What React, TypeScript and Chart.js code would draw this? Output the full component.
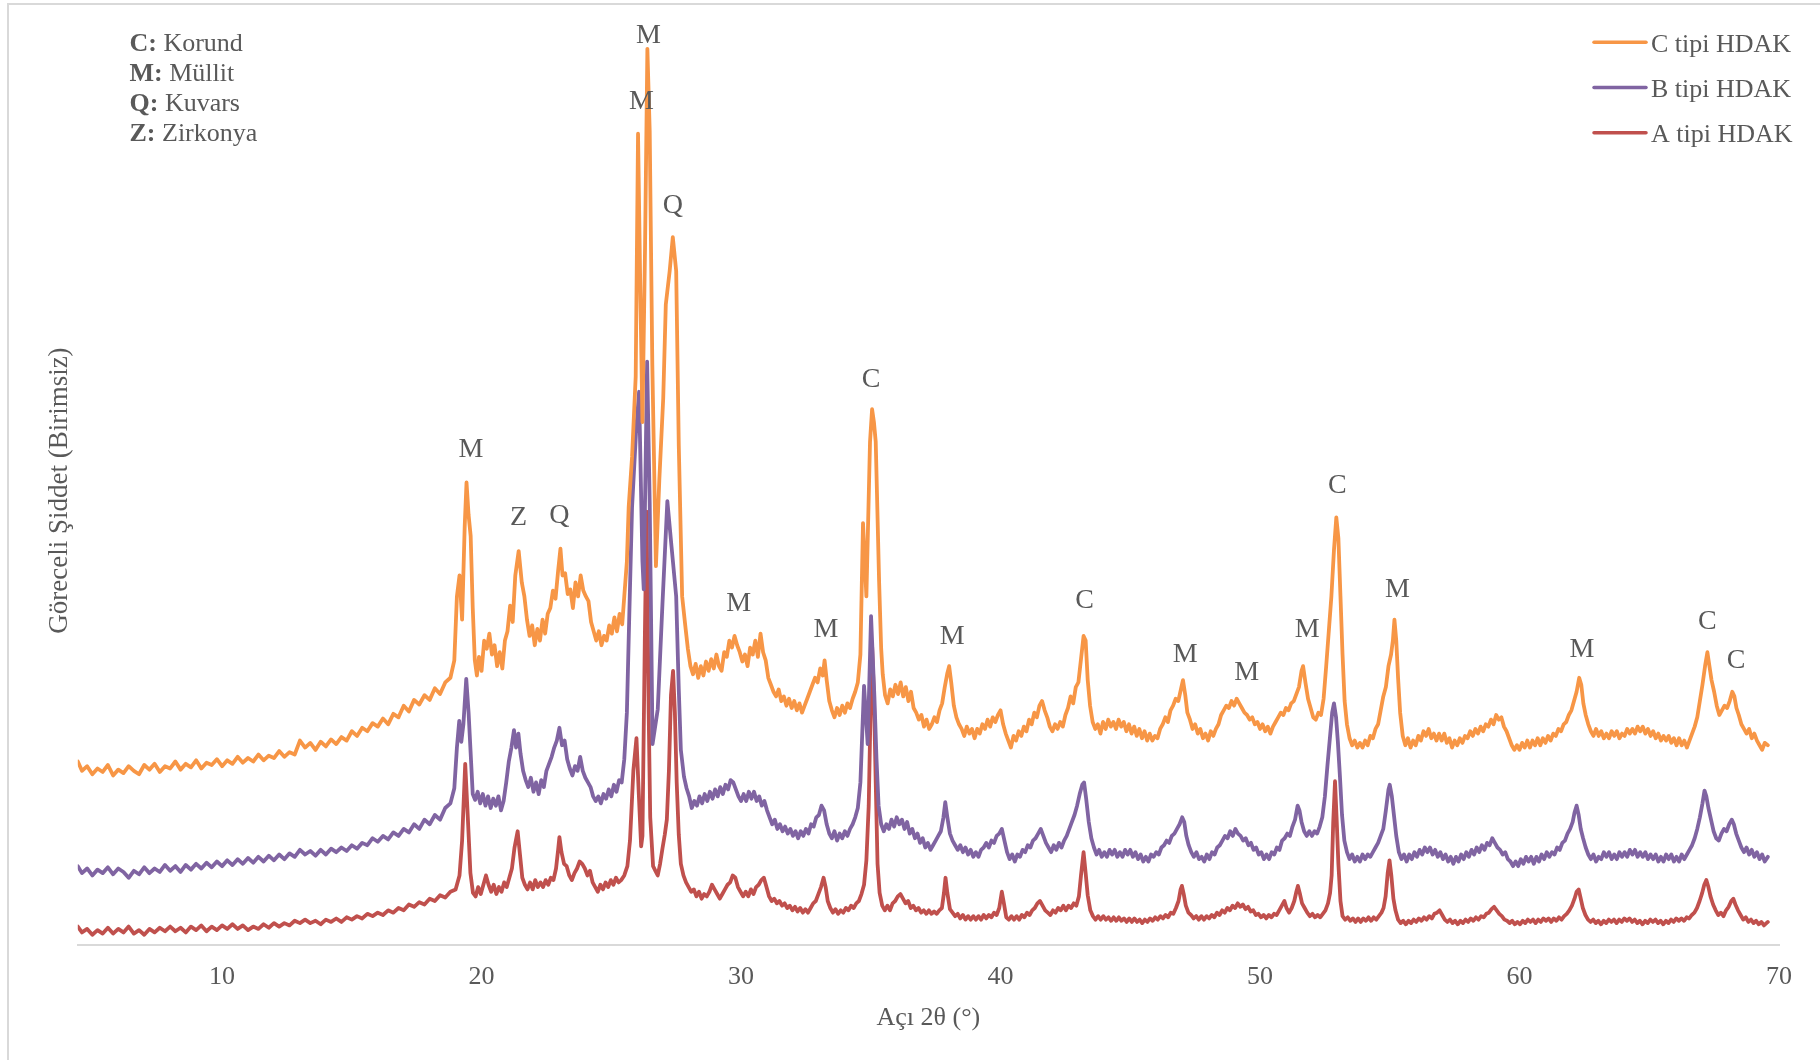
import { useEffect, useRef } from "react";
import { Chart, registerables } from "chart.js";

Chart.register(...registerables);

// ---------- data (2θ in degrees, relative intensity) ----------
const X_MIN = 4.44;
const X_MAX = 70;
const Y_MAX = 782;
const X_TICKS = [10, 20, 30, 40, 50, 60, 70];

const SERIES_NAMES = ["C tipi HDAK", "B tipi HDAK", "A tipi HDAK"];
const SERIES_COLORS = ["#F79646", "#8064A2", "#C0504D"];

const C_TIPI: [number, number][] = [
  [4.44,158],[4.6,150],[4.8,154],[5.0,147],[5.2,152],[5.4,149],[5.6,155],[5.8,146],[6.0,151],[6.2,148],[6.4,154],[6.6,150],[6.8,147],[7.0,155],[7.2,151],[7.4,156],[7.6,149],[7.8,154],[8.0,152],[8.2,158],[8.4,151],[8.6,156],[8.8,153],[9.0,159],[9.2,152],[9.4,157],[9.6,155],[9.8,160],[10.0,154],[10.2,159],[10.4,156],[10.6,162],[10.8,157],[11.0,161],[11.2,158],[11.4,164],[11.6,159],[11.8,163],[12.0,161],[12.2,167],[12.4,162],[12.6,166],[12.8,164],[13.0,176],[13.2,170],[13.4,174],[13.6,168],[13.8,175],[14.0,171],[14.2,177],[14.4,173],[14.6,179],[14.8,176],[15.0,184],[15.2,180],[15.4,187],[15.6,184],[15.8,191],[16.0,188],[16.2,195],[16.4,190],[16.6,199],[16.8,196],[17.0,206],[17.2,201],[17.4,211],[17.6,207],[17.8,215],[18.0,211],[18.2,221],[18.4,216],[18.6,226],[18.8,230],
  [18.95,245],[19.05,300],[19.15,318],[19.25,280],[19.35,360],[19.42,398],[19.5,370],[19.58,352],[19.66,290],[19.74,245],[19.82,232],[19.9,248],[20.0,236],[20.1,262],[20.2,255],[20.3,268],[20.4,250],[20.5,258],[20.6,240],[20.7,252],[20.8,238],[20.9,262],[21.0,270],[21.1,292],[21.2,278],[21.3,318],[21.43,339],[21.55,312],[21.65,300],[21.75,280],[21.85,266],[21.95,275],[22.05,258],[22.15,272],[22.25,262],[22.35,280],[22.45,268],[22.55,285],[22.65,290],[22.75,305],[22.85,298],[22.95,322],[23.04,341],[23.12,318],[23.22,320],[23.32,302],[23.42,306],[23.52,290],[23.62,312],[23.72,300],[23.82,318],[23.92,305],[24.02,300],[24.12,296],[24.22,278],[24.32,270],[24.42,262],[24.52,270],[24.62,258],[24.72,266],[24.82,262],[24.92,275],[25.02,268],[25.12,282],[25.22,270],[25.32,285],[25.42,276],[25.5,300],[25.6,330],[25.67,377],[25.8,420],[25.94,489],[26.03,698],[26.12,560],[26.2,450],[26.3,600],[26.39,771],[26.48,700],[26.58,500],[26.72,326],[26.85,400],[27.0,470],[27.1,551],[27.25,580],[27.37,609],[27.5,580],[27.6,430],[27.73,300],[27.85,275],[27.95,255],
  [28.05,240],[28.15,233],[28.25,242],[28.35,230],[28.45,240],[28.55,232],[28.65,244],[28.75,236],[28.85,246],[28.95,238],[29.05,250],[29.15,240],[29.25,236],[29.35,252],[29.45,248],[29.55,262],[29.65,256],[29.75,266],[29.85,258],[29.95,252],[30.05,244],[30.15,250],[30.25,240],[30.35,256],[30.45,250],[30.55,262],[30.65,248],[30.75,268],[30.85,252],[30.95,245],[31.05,230],[31.15,224],[31.25,218],[31.35,214],[31.45,220],[31.55,210],[31.65,214],[31.75,206],[31.85,212],[31.95,204],[32.05,210],[32.15,202],[32.25,208],[32.35,200],[32.45,206],[32.55,212],[32.65,218],[32.75,224],[32.85,230],[32.95,226],[33.05,238],[33.15,232],[33.22,245],[33.3,228],[33.4,210],[33.5,202],[33.6,196],[33.7,204],[33.8,198],[33.9,206],[34.0,200],[34.1,208],[34.2,204],[34.3,212],[34.4,218],[34.5,226],[34.6,250],[34.7,363],[34.83,300],[34.97,433],[35.05,461],[35.12,450],[35.19,433],[35.32,313],[35.4,255],[35.46,233],[35.55,215],[35.65,208],[35.75,220],[35.85,214],[35.95,224],[36.05,216],[36.15,226],[36.25,214],[36.35,222],[36.45,210],[36.55,218],[36.65,204],[36.75,200],[36.85,194],[36.95,198],[37.05,188],[37.15,194],[37.25,186],[37.35,190],[37.45,196],[37.55,192],[37.65,202],[37.75,208],[37.85,222],[37.95,234],[38.02,240],[38.1,226],[38.2,206],[38.3,196],[38.4,190],[38.5,186],[38.6,180],[38.7,188],[38.8,182],[38.9,186],[39.0,178],[39.1,186],[39.2,182],[39.3,190],[39.4,186],[39.5,194],[39.6,188],[39.7,196],[39.8,192],[39.9,198],[40.0,202],[40.1,190],[40.2,182],[40.3,176],[40.4,170],[40.5,180],[40.6,176],[40.7,184],[40.8,180],[40.9,188],[41.0,184],[41.1,194],[41.2,190],[41.3,200],[41.4,196],[41.5,206],[41.6,210],[41.7,202],[41.8,196],[41.9,188],[42.0,184],[42.1,190],[42.2,186],[42.3,192],[42.4,188],[42.5,198],[42.6,204],[42.7,214],[42.8,208],[42.9,222],[43.0,226],[43.1,246],[43.2,266],[43.28,262],[43.36,228],[43.45,206],[43.55,192],[43.65,186],[43.75,190],[43.85,182],[43.95,192],
  [44.05,186],[44.15,194],[44.25,188],[44.35,192],[44.45,186],[44.55,194],[44.65,188],[44.75,192],[44.85,184],[44.95,190],[45.05,182],[45.15,188],[45.25,180],[45.35,186],[45.45,178],[45.55,184],[45.65,176],[45.75,182],[45.85,176],[45.95,180],[46.05,178],[46.15,186],[46.25,190],[46.35,196],[46.45,192],[46.55,202],[46.65,206],[46.75,212],[46.85,210],[46.95,220],[47.03,228],[47.12,215],[47.2,200],[47.3,194],[47.4,186],[47.5,190],[47.6,182],[47.7,186],[47.8,178],[47.9,182],[48.0,176],[48.1,184],[48.2,180],[48.3,186],[48.4,190],[48.5,198],[48.6,202],[48.7,206],[48.8,204],[48.9,210],[49.0,206],[49.1,212],[49.2,208],[49.3,204],[49.4,200],[49.5,198],[49.6,194],[49.7,196],[49.8,190],[49.9,192],[50.0,186],[50.1,190],[50.2,184],[50.3,188],[50.4,182],[50.5,188],[50.6,192],[50.7,196],[50.8,200],[50.9,198],[51.0,204],[51.1,202],[51.2,208],[51.3,210],[51.4,216],[51.5,222],[51.6,236],[51.66,240],[51.75,226],[51.85,212],[51.95,204],[52.05,196],[52.15,194],[52.25,200],[52.35,198],[52.45,212],[52.55,240],[52.65,270],[52.75,300],[52.85,340],[52.94,368],[53.02,350],[53.1,300],[53.18,250],[53.26,210],[53.35,190],[53.45,178],[53.55,172],[53.65,176],[53.75,170],[53.85,174],[53.95,170],[54.05,176],[54.15,172],[54.25,180],[54.35,178],[54.45,186],[54.55,190],[54.65,202],[54.75,214],[54.85,222],[54.95,240],[55.05,250],[55.12,262],[55.18,280],[55.25,262],[55.32,230],[55.4,200],[55.5,180],[55.6,172],[55.7,178],[55.8,170],[55.9,176],
  [56.0,172],[56.1,180],[56.2,176],[56.3,184],[56.4,180],[56.5,186],[56.6,178],[56.7,182],[56.8,176],[56.9,182],[57.0,176],[57.1,182],[57.2,174],[57.3,178],[57.4,170],[57.5,176],[57.6,172],[57.7,178],[57.8,174],[57.9,180],[58.0,178],[58.1,184],[58.2,180],[58.3,186],[58.4,182],[58.5,188],[58.6,184],[58.7,190],[58.8,188],[58.9,194],[59.0,190],[59.1,198],[59.2,194],[59.3,196],[59.4,188],[59.5,184],[59.6,178],[59.7,172],[59.8,168],[59.9,172],[60.0,168],[60.1,174],[60.2,170],[60.3,176],[60.4,170],[60.5,176],[60.6,172],[60.7,178],[60.8,172],[60.9,178],[61.0,174],[61.1,180],[61.2,176],[61.3,182],[61.4,180],[61.5,186],[61.6,184],[61.7,190],[61.8,192],[61.9,198],[62.0,202],[62.1,210],[62.2,218],[62.3,230],[62.38,224],[62.46,208],[62.55,198],[62.65,190],[62.75,184],[62.85,180],[62.95,186],[63.05,180],[63.15,184],[63.25,178],[63.35,182],[63.45,178],[63.55,184],[63.65,180],[63.75,184],[63.85,178],[63.95,182],[64.05,180],[64.15,186],[64.25,182],[64.35,186],[64.45,182],[64.55,188],[64.65,184],[64.75,188],[64.85,182],[64.95,186],[65.05,180],[65.15,184],[65.25,178],[65.35,182],[65.45,176],[65.55,180],[65.65,176],[65.75,180],[65.85,174],[65.95,178],[66.05,172],[66.15,178],[66.25,172],[66.35,176],[66.45,170],[66.55,176],[66.65,182],[66.75,188],[66.85,196],[66.95,210],[67.05,224],[67.15,240],[67.24,252],[67.32,240],[67.4,228],[67.5,218],[67.6,206],[67.7,198],[67.8,202],[67.9,206],[68.0,204],[68.1,210],[68.2,218],[68.28,214],[68.36,204],[68.45,198],[68.55,190],[68.65,186],[68.75,182],[68.85,186],[68.95,178],[69.05,182],[69.15,176],[69.25,172],[69.35,168],[69.45,174],[69.57,172],
];

const B_TIPI: [number, number][] = [
  [4.44,68],[4.6,62],[4.8,66],[5.0,60],[5.2,65],[5.4,62],[5.6,67],[5.8,61],[6.0,66],[6.2,63],[6.4,58],[6.6,64],[6.8,61],[7.0,67],[7.2,62],[7.4,66],[7.6,63],[7.8,69],[8.0,64],[8.2,68],[8.4,63],[8.6,69],[8.8,65],[9.0,70],[9.2,66],[9.4,71],[9.6,67],[9.8,72],[10.0,68],[10.2,73],[10.4,69],[10.6,74],[10.8,70],[11.0,75],[11.2,71],[11.4,76],[11.6,72],[11.8,77],[12.0,73],[12.2,78],[12.4,74],[12.6,79],[12.8,76],[13.0,82],[13.2,78],[13.4,81],[13.6,77],[13.8,82],[14.0,78],[14.2,83],[14.4,80],[14.6,84],[14.8,81],[15.0,86],[15.2,83],[15.4,88],[15.6,86],[15.8,92],[16.0,89],[16.2,94],[16.4,91],[16.6,97],[16.8,94],[17.0,100],[17.2,97],[17.4,104],[17.6,100],[17.8,108],[18.0,104],[18.2,112],[18.4,108],[18.6,118],[18.8,122],
  [18.95,135],[19.05,170],[19.14,193],[19.22,175],[19.3,190],[19.41,229],[19.5,200],[19.58,165],[19.66,130],[19.75,125],[19.85,132],[19.95,122],[20.05,130],[20.15,120],[20.25,128],[20.35,118],[20.45,126],[20.55,120],[20.65,128],[20.75,116],[20.85,124],[20.95,140],[21.05,158],[21.15,170],[21.25,185],[21.33,170],[21.42,182],[21.5,165],[21.6,150],[21.7,142],[21.8,136],[21.9,144],[22.0,132],[22.1,140],[22.2,130],[22.3,142],[22.4,136],[22.5,150],[22.6,156],[22.7,162],[22.8,170],[22.9,176],[23.0,187],[23.1,172],[23.2,176],[23.3,160],[23.4,152],[23.5,146],[23.6,154],[23.7,150],[23.8,162],[23.9,150],[24.0,144],[24.1,140],[24.2,136],[24.3,128],[24.4,124],[24.5,128],[24.6,122],[24.7,130],[24.8,126],[24.9,134],[25.0,128],[25.1,138],[25.2,132],[25.3,142],[25.4,140],[25.5,160],[25.6,200],[25.7,290],[25.8,377],[25.95,440],[26.07,476],[26.2,330],[26.25,306],[26.38,502],[26.48,380],[26.59,173],[26.79,203],[26.97,293],[27.16,382],[27.32,343],[27.5,300],[27.6,220],[27.68,168],[27.8,145],[27.9,135],
  [28.0,128],[28.1,118],[28.2,124],[28.3,120],[28.4,128],[28.5,122],[28.6,130],[28.7,124],[28.8,132],[28.9,126],[29.0,134],[29.1,128],[29.2,136],[29.3,130],[29.4,138],[29.5,134],[29.6,142],[29.7,140],[29.8,134],[29.9,128],[30.0,124],[30.1,130],[30.2,124],[30.3,132],[30.4,126],[30.5,132],[30.6,124],[30.7,128],[30.8,120],[30.9,124],[31.0,116],[31.1,110],[31.2,104],[31.3,108],[31.4,100],[31.5,104],[31.6,98],[31.7,102],[31.8,96],[31.9,100],[32.0,94],[32.1,98],[32.2,92],[32.3,98],[32.4,94],[32.5,100],[32.6,96],[32.7,104],[32.8,102],[32.9,110],[33.0,112],[33.1,120],[33.2,116],[33.3,104],[33.4,96],[33.5,92],[33.6,98],[33.7,90],[33.8,96],[33.9,92],[34.0,98],[34.1,94],[34.2,100],[34.3,104],[34.4,110],[34.5,118],[34.6,140],[34.74,223],[34.88,173],[35.01,283],[35.14,213],[35.22,160],[35.3,120],[35.4,104],[35.5,98],[35.6,104],[35.7,100],[35.8,108],[35.9,102],[36.0,110],[36.1,104],[36.2,108],[36.3,100],[36.4,106],[36.5,96],[36.6,100],[36.7,92],[36.8,96],[36.9,88],[37.0,92],[37.1,84],[37.2,88],[37.3,82],[37.4,86],[37.5,90],[37.6,94],[37.7,98],[37.8,110],[37.87,123],[37.95,110],[38.05,96],[38.15,90],[38.25,86],[38.35,82],[38.45,86],[38.55,80],[38.65,84],[38.75,78],[38.85,82],[38.95,76],[39.05,80],[39.15,76],[39.25,82],[39.35,84],[39.45,88],[39.55,84],[39.65,90],[39.75,88],[39.85,94],[39.95,96],[40.05,100],[40.15,90],[40.25,80],[40.35,74],[40.45,78],[40.55,72],[40.65,78],[40.75,76],[40.85,82],[40.95,80],[41.05,86],[41.15,84],[41.25,90],[41.35,92],[41.45,96],[41.55,100],[41.65,94],[41.75,88],[41.85,84],[41.95,80],[42.05,86],[42.15,82],[42.25,88],[42.35,84],[42.45,90],[42.55,94],[42.65,100],[42.75,106],[42.85,112],[42.95,120],[43.05,130],[43.15,138],[43.22,140],[43.3,126],[43.4,106],[43.5,92],[43.6,84],[43.7,78],[43.8,82],[43.9,76],
  [44.0,80],[44.1,76],[44.2,82],[44.3,78],[44.4,82],[44.5,76],[44.6,80],[44.7,76],[44.8,82],[44.9,78],[45.0,82],[45.1,76],[45.2,80],[45.3,74],[45.4,78],[45.5,72],[45.6,76],[45.7,72],[45.8,78],[45.9,76],[46.0,80],[46.1,78],[46.2,84],[46.3,86],[46.4,90],[46.5,88],[46.6,94],[46.7,96],[46.8,100],[46.9,104],[47.0,110],[47.08,106],[47.16,94],[47.25,86],[47.35,80],[47.45,76],[47.55,80],[47.65,74],[47.75,76],[47.85,72],[47.95,78],[48.05,74],[48.15,80],[48.25,78],[48.35,84],[48.45,86],[48.55,90],[48.65,94],[48.75,92],[48.85,98],[48.95,94],[49.05,100],[49.15,96],[49.25,94],[49.35,90],[49.45,92],[49.55,86],[49.65,88],[49.75,82],[49.85,84],[49.95,78],[50.05,80],[50.15,74],[50.25,78],[50.35,74],[50.45,80],[50.55,78],[50.65,84],[50.75,82],[50.85,90],[50.95,92],[51.05,96],[51.15,94],[51.25,102],[51.35,108],[51.45,120],[51.52,116],[51.6,106],[51.7,98],[51.8,94],[51.9,98],[52.0,94],[52.1,98],[52.2,96],[52.3,102],[52.4,110],[52.5,128],[52.6,155],[52.7,180],[52.78,200],[52.85,208],[52.93,196],[53.0,175],[53.08,145],[53.16,112],[53.25,90],[53.35,80],[53.45,74],[53.55,78],[53.65,72],[53.75,76],[53.85,72],[53.95,78],[54.05,74],[54.15,78],[54.25,76],[54.35,80],[54.45,84],[54.55,88],[54.65,94],[54.75,100],[54.85,116],[54.95,134],[55.0,138],[55.08,128],[55.16,112],[55.25,94],[55.35,80],[55.45,74],[55.55,78],[55.65,72],[55.75,78],[55.85,74],[55.95,80],
  [56.05,76],[56.15,82],[56.25,78],[56.35,84],[56.45,80],[56.55,84],[56.65,78],[56.75,82],[56.85,76],[56.95,80],[57.05,74],[57.15,78],[57.25,72],[57.35,76],[57.45,70],[57.55,76],[57.65,72],[57.75,78],[57.85,74],[57.95,80],[58.05,76],[58.15,82],[58.25,78],[58.35,84],[58.45,80],[58.55,86],[58.65,82],[58.75,88],[58.85,86],[58.95,92],[59.05,88],[59.15,84],[59.25,82],[59.35,78],[59.45,80],[59.55,74],[59.65,72],[59.75,68],[59.85,72],[59.95,68],[60.05,74],[60.15,70],[60.25,76],[60.35,72],[60.45,76],[60.55,70],[60.65,76],[60.75,72],[60.85,78],[60.95,74],[61.05,80],[61.15,76],[61.25,80],[61.35,78],[61.45,84],[61.55,82],[61.65,88],[61.75,90],[61.85,96],[61.95,100],[62.05,106],[62.12,114],[62.2,120],[62.28,112],[62.36,100],[62.45,92],[62.55,84],[62.65,78],[62.75,74],[62.85,78],[62.95,72],[63.05,76],[63.15,74],[63.25,80],[63.35,76],[63.45,80],[63.55,74],[63.65,78],[63.75,74],[63.85,80],[63.95,76],[64.05,80],[64.15,76],[64.25,82],[64.35,78],[64.45,82],[64.55,76],[64.65,80],[64.75,76],[64.85,80],[64.95,74],[65.05,78],[65.15,74],[65.25,78],[65.35,72],[65.45,76],[65.55,72],[65.65,78],[65.75,74],[65.85,78],[65.95,72],[66.05,76],[66.15,72],[66.25,78],[66.35,74],[66.45,78],[66.55,82],[66.65,86],[66.75,92],[66.85,100],[66.95,110],[67.05,122],[67.13,133],[67.2,128],[67.28,118],[67.38,108],[67.48,98],[67.58,92],[67.68,90],[67.78,96],[67.88,100],[67.98,98],[68.08,104],[68.18,108],[68.26,104],[68.35,96],[68.45,90],[68.55,84],[68.65,80],[68.75,84],[68.85,78],[68.95,82],[69.05,76],[69.15,80],[69.25,74],[69.35,78],[69.45,72],[69.57,76],
];

const A_TIPI: [number, number][] = [
  [4.44,16],[4.6,11],[4.8,14],[5.0,9],[5.2,13],[5.4,10],[5.6,15],[5.8,10],[6.0,14],[6.2,11],[6.4,16],[6.6,10],[6.8,13],[7.0,9],[7.2,14],[7.4,11],[7.6,15],[7.8,12],[8.0,16],[8.2,12],[8.4,15],[8.6,11],[8.8,16],[9.0,13],[9.2,17],[9.4,12],[9.6,16],[9.8,13],[10.0,17],[10.2,14],[10.4,18],[10.6,14],[10.8,17],[11.0,13],[11.2,16],[11.4,14],[11.6,18],[11.8,15],[12.0,19],[12.2,16],[12.4,19],[12.6,17],[12.8,21],[13.0,19],[13.2,22],[13.4,19],[13.6,21],[13.8,18],[14.0,22],[14.2,20],[14.4,23],[14.6,20],[14.8,24],[15.0,22],[15.2,25],[15.4,23],[15.6,27],[15.8,25],[16.0,28],[16.2,26],[16.4,30],[16.6,28],[16.8,32],[17.0,30],[17.2,35],[17.4,33],[17.6,37],[17.8,35],[18.0,40],[18.2,38],[18.4,43],[18.6,41],[18.8,46],[19.0,48],
  [19.15,60],[19.25,90],[19.37,156],[19.47,110],[19.57,62],[19.67,45],[19.77,42],[19.87,50],[19.97,44],[20.07,52],[20.17,60],[20.27,52],[20.37,46],[20.47,52],[20.57,44],[20.67,50],[20.77,46],[20.87,54],[20.97,50],[21.07,58],[21.17,66],[21.27,84],[21.39,98],[21.48,78],[21.57,58],[21.67,52],[21.77,48],[21.87,54],[21.97,48],[22.07,56],[22.17,50],[22.27,54],[22.37,50],[22.47,56],[22.57,52],[22.67,58],[22.77,56],[22.87,66],[22.95,82],[23.0,93],[23.08,80],[23.18,70],[23.28,68],[23.38,60],[23.48,56],[23.58,62],[23.68,66],[23.78,72],[23.88,70],[23.98,66],[24.08,60],[24.18,64],[24.28,54],[24.38,50],[24.48,46],[24.58,52],[24.68,48],[24.78,54],[24.88,50],[24.98,56],[25.08,52],[25.18,58],[25.28,54],[25.38,56],[25.5,60],[25.62,68],[25.72,90],[25.85,150],[25.97,178],[26.06,130],[26.15,85],[26.2,94],[26.29,260],[26.36,373],[26.44,200],[26.5,110],[26.61,68],[26.7,64],[26.79,60],[26.88,70],[26.97,83],[27.06,95],[27.14,108],[27.22,150],[27.3,215],[27.38,236],[27.45,200],[27.52,140],[27.6,95],[27.68,70],[27.78,60],[27.88,54],[27.98,50],
  [28.08,46],[28.18,48],[28.28,42],[28.38,46],[28.48,40],[28.58,44],[28.68,42],[28.78,46],[28.88,52],[28.98,48],[29.08,44],[29.18,40],[29.28,44],[29.38,48],[29.48,52],[29.58,54],[29.68,60],[29.78,58],[29.88,50],[29.98,46],[30.08,42],[30.18,46],[30.28,42],[30.38,48],[30.48,44],[30.58,50],[30.68,52],[30.78,56],[30.88,58],[30.98,50],[31.08,42],[31.18,38],[31.28,40],[31.38,36],[31.48,38],[31.58,34],[31.68,36],[31.78,32],[31.88,34],[31.98,30],[32.08,33],[32.18,29],[32.28,32],[32.38,28],[32.48,31],[32.58,28],[32.68,32],[32.78,36],[32.88,38],[32.98,44],[33.08,50],[33.18,58],[33.26,50],[33.34,38],[33.44,32],[33.54,28],[33.64,31],[33.74,27],[33.84,30],[33.94,28],[34.04,32],[34.14,30],[34.24,34],[34.34,32],[34.44,36],[34.54,38],[34.64,44],[34.74,52],[34.83,73],[34.92,120],[34.98,190],[35.05,258],[35.12,215],[35.19,140],[35.26,70],[35.34,45],[35.44,34],[35.54,30],[35.64,34],[35.74,30],[35.84,36],[35.94,38],[36.04,42],[36.14,44],[36.24,40],[36.34,36],[36.44,38],[36.54,32],[36.64,34],[36.74,30],[36.84,32],[36.94,28],[37.04,30],[37.14,27],[37.24,30],[37.34,27],[37.44,29],[37.54,27],[37.64,30],[37.74,32],[37.82,45],[37.88,58],[37.95,45],[38.05,31],[38.15,28],[38.25,25],[38.35,27],[38.45,23],[38.55,26],[38.65,22],[38.75,25],[38.85,22],[38.95,25],[39.05,22],[39.15,25],[39.25,22],[39.35,26],[39.45,23],[39.55,26],[39.65,24],[39.75,28],[39.85,26],[39.95,32],[40.05,46],[40.13,36],[40.22,24],[40.32,22],[40.42,25],[40.52,22],[40.62,25],[40.72,22],[40.82,26],[40.92,24],[41.02,28],[41.12,26],[41.22,30],[41.32,32],[41.42,36],[41.52,38],[41.62,34],[41.72,30],[41.82,28],[41.92,26],[42.02,30],[42.12,28],[42.22,32],[42.32,30],[42.42,34],[42.52,30],[42.62,34],[42.72,32],[42.82,36],[42.92,34],[43.02,42],[43.1,60],[43.2,80],[43.28,62],[43.36,43],[43.46,30],[43.56,25],[43.66,22],[43.76,25],[43.86,22],[43.96,25],
  [44.06,22],[44.16,24],[44.26,21],[44.36,24],[44.46,21],[44.56,24],[44.66,21],[44.76,23],[44.86,20],[44.96,23],[45.06,20],[45.16,23],[45.26,20],[45.36,22],[45.46,19],[45.56,22],[45.66,20],[45.76,23],[45.86,21],[45.96,24],[46.06,22],[46.16,25],[46.26,23],[46.36,26],[46.46,24],[46.56,28],[46.66,27],[46.76,32],[46.86,38],[46.94,48],[46.99,51],[47.06,44],[47.14,34],[47.24,28],[47.34,26],[47.44,23],[47.54,25],[47.64,22],[47.74,25],[47.84,22],[47.94,25],[48.04,23],[48.14,26],[48.24,24],[48.34,28],[48.44,26],[48.54,30],[48.64,28],[48.74,32],[48.84,30],[48.94,34],[49.04,32],[49.14,36],[49.24,33],[49.34,35],[49.44,31],[49.54,33],[49.64,29],[49.74,30],[49.84,26],[49.94,27],[50.04,24],[50.14,26],[50.24,23],[50.34,26],[50.44,24],[50.54,27],[50.64,26],[50.74,30],[50.84,34],[50.94,38],[51.02,32],[51.12,28],[51.22,32],[51.32,38],[51.4,46],[51.46,51],[51.54,44],[51.62,36],[51.72,32],[51.82,28],[51.92,25],[52.02,27],[52.12,24],[52.22,26],[52.32,24],[52.42,27],[52.52,30],[52.62,36],[52.7,45],[52.76,60],[52.82,105],[52.89,141],[52.95,110],[53.02,70],[53.1,38],[53.18,25],[53.28,22],[53.38,24],[53.48,21],[53.58,23],[53.68,20],[53.78,23],[53.88,20],[53.98,23],[54.08,21],[54.18,24],[54.28,21],[54.38,24],[54.48,22],[54.58,25],[54.68,28],[54.76,32],[54.84,42],[54.92,62],[54.99,73],[55.06,60],[55.14,40],[55.22,30],[55.32,22],[55.42,19],[55.52,21],[55.62,18],[55.72,21],[55.82,19],[55.92,22],
  [56.02,20],[56.12,23],[56.22,21],[56.32,24],[56.42,22],[56.52,25],[56.62,23],[56.72,27],[56.82,28],[56.92,30],[57.02,26],[57.12,22],[57.22,20],[57.32,22],[57.42,19],[57.52,21],[57.62,18],[57.72,21],[57.82,19],[57.92,22],[58.02,20],[58.12,23],[58.22,21],[58.32,24],[58.42,22],[58.52,25],[58.62,24],[58.72,27],[58.82,28],[58.92,31],[59.02,33],[59.12,30],[59.22,27],[59.32,25],[59.42,22],[59.52,21],[59.62,19],[59.72,21],[59.82,18],[59.92,20],[60.02,18],[60.12,21],[60.22,19],[60.32,22],[60.42,20],[60.52,22],[60.62,19],[60.72,22],[60.82,20],[60.92,23],[61.02,21],[61.12,23],[61.22,20],[61.32,23],[61.42,21],[61.52,24],[61.62,22],[61.72,25],[61.82,27],[61.92,30],[62.02,34],[62.12,40],[62.2,46],[62.28,48],[62.36,40],[62.44,32],[62.54,26],[62.64,22],[62.74,20],[62.84,22],[62.94,19],[63.04,21],[63.14,18],[63.24,21],[63.34,19],[63.44,22],[63.54,20],[63.64,22],[63.74,19],[63.84,22],[63.94,20],[64.04,23],[64.14,21],[64.24,23],[64.34,20],[64.44,22],[64.54,19],[64.64,21],[64.74,18],[64.84,21],[64.94,19],[65.04,22],[65.14,20],[65.24,22],[65.34,19],[65.44,21],[65.54,18],[65.64,21],[65.74,19],[65.84,22],[65.94,20],[66.04,23],[66.14,21],[66.24,23],[66.34,21],[66.44,24],[66.54,23],[66.64,26],[66.74,28],[66.84,32],[66.94,38],[67.04,45],[67.12,52],[67.2,56],[67.28,50],[67.36,42],[67.46,35],[67.56,30],[67.66,26],[67.76,28],[67.86,25],[67.96,30],[68.06,33],[68.16,38],[68.24,40],[68.32,35],[68.42,30],[68.52,26],[68.62,22],[68.72,24],[68.82,20],[68.92,22],[69.02,19],[69.12,21],[69.22,18],[69.32,20],[69.42,17],[69.57,20],
];

// phase labels above peaks: [letter, 2θ, intensity]
const PEAK_LABELS: [string, number, number][] = [
  ["M", 19.59, 428], ["Z", 21.43, 370], ["Q", 23.0, 371], ["M", 26.16, 727], ["M", 26.43, 784],
  ["Q", 27.37, 638], ["M", 29.91, 296], ["M", 33.27, 273], ["C", 35.01, 488], ["M", 38.14, 267],
  ["C", 43.24, 298], ["M", 47.12, 252], ["M", 49.49, 236], ["M", 51.82, 273], ["C", 52.98, 397],
  ["M", 55.3, 308], ["M", 62.41, 256], ["C", 67.24, 280], ["C", 68.35, 247],
];

const KEY_CODES = ["C:", "M:", "Q:", "Z:"];
const KEY_NAMES = ["Korund", "Müllit", "Kuvars", "Zirkonya"];

const X_TITLE = "Açı 2θ (°)";
const Y_TITLE = "Göreceli Şiddet (Birimsiz)";

// ---------- styling ----------
const SERIF = "'Liberation Serif', 'Times New Roman', serif";
const TEXT = "#595959";

const decorPlugin = {
  id: "decor",
  beforeDraw(chart: any) {
    const ctx = chart.ctx;
    ctx.save();
    ctx.fillStyle = "#ffffff";
    ctx.fillRect(0, 0, chart.width, chart.height);
    ctx.fillStyle = "#d9d9d9";
    ctx.fillRect(7, 3, 2, chart.height - 3);
    ctx.fillRect(7, 3, chart.width - 7, 2);
    ctx.restore();
  },
  afterDraw(chart: any) {
    const ctx = chart.ctx;
    const xs = chart.scales.x;
    const ys = chart.scales.y;
    ctx.save();
    ctx.fillStyle = TEXT;
    ctx.font = `28px ${SERIF}`;
    ctx.textAlign = "center";
    ctx.textBaseline = "alphabetic";
    PEAK_LABELS.forEach(([t, x, y]) => {
      ctx.fillText(t, xs.getPixelForValue(x), ys.getPixelForValue(y) + 9.5);
    });
    ctx.textAlign = "left";
    KEY_CODES.forEach((code, i) => {
      const by = 50.7 + i * 30;
      ctx.font = `bold 26px ${SERIF}`;
      ctx.fillText(code, 129.5, by);
      const w = ctx.measureText(code + " ").width;
      ctx.font = `26px ${SERIF}`;
      ctx.fillText(KEY_NAMES[i], 129.5 + w, by);
    });
    SERIES_NAMES.forEach((name, i) => {
      const ly = 42.3 + i * 45.2;
      ctx.strokeStyle = SERIES_COLORS[i];
      ctx.lineWidth = 3.5;
      ctx.lineCap = "round";
      ctx.beginPath();
      ctx.moveTo(1594, ly);
      ctx.lineTo(1646, ly);
      ctx.stroke();
      ctx.fillStyle = TEXT;
      ctx.font = `26px ${SERIF}`;
      ctx.fillText(name, 1651, ly + 9.4);
    });
    ctx.restore();
  },
};

export default function App() {
  const ref = useRef<HTMLCanvasElement | null>(null);

  useEffect(() => {
    if (!ref.current) return;
    const series = [C_TIPI, B_TIPI, A_TIPI];
    const chart = new Chart(ref.current, {
      type: "line",
      data: {
        datasets: series.map((s, i) => ({
          label: SERIES_NAMES[i],
          data: s.map(([x, y]) => ({ x, y })),
          borderColor: SERIES_COLORS[i],
          backgroundColor: SERIES_COLORS[i],
          borderWidth: 3.8,
          pointRadius: 0,
          tension: 0,
          borderJoinStyle: "round" as const,
          borderCapStyle: "round" as const,
          fill: false,
        })),
      },
      options: {
        responsive: false,
        animation: false,
        devicePixelRatio: 1,
        layout: { padding: { left: 39.4, right: 41, top: 36, bottom: 26.4 } },
        plugins: {
          legend: { display: false },
          tooltip: { enabled: false },
        },
        scales: {
          x: {
            type: "linear",
            min: X_MIN,
            max: X_MAX,
            afterBuildTicks: (scale: any) => {
              scale.ticks = X_TICKS.map((v) => ({ value: v }));
            },
            ticks: {
              color: TEXT,
              font: { family: SERIF, size: 26 },
              padding: 16,
              maxRotation: 0,
              autoSkip: false,
            },
            grid: { display: false, drawTicks: false },
            border: { display: true, color: "#d9d9d9", width: 2 },
            title: {
              display: true,
              text: X_TITLE,
              color: TEXT,
              font: { family: SERIF, size: 26 },
              padding: { top: -6, bottom: 0 },
            },
          },
          y: {
            type: "linear",
            min: 0,
            max: Y_MAX,
            ticks: { display: false },
            grid: { display: false, drawTicks: false },
            border: { display: false },
            title: {
              display: true,
              text: Y_TITLE,
              color: TEXT,
              font: { family: SERIF, size: 27 },
              padding: { top: 4, bottom: 2 },
            },
          },
        },
      },
      plugins: [decorPlugin],
    });
    return () => chart.destroy();
  }, []);

  return (
    <div style={{ position: "fixed", left: 0, top: 0, width: 1820, height: 1060, background: "#fff" }}>
      <canvas ref={ref} width={1820} height={1060} style={{ display: "block" }} />
    </div>
  );
}
